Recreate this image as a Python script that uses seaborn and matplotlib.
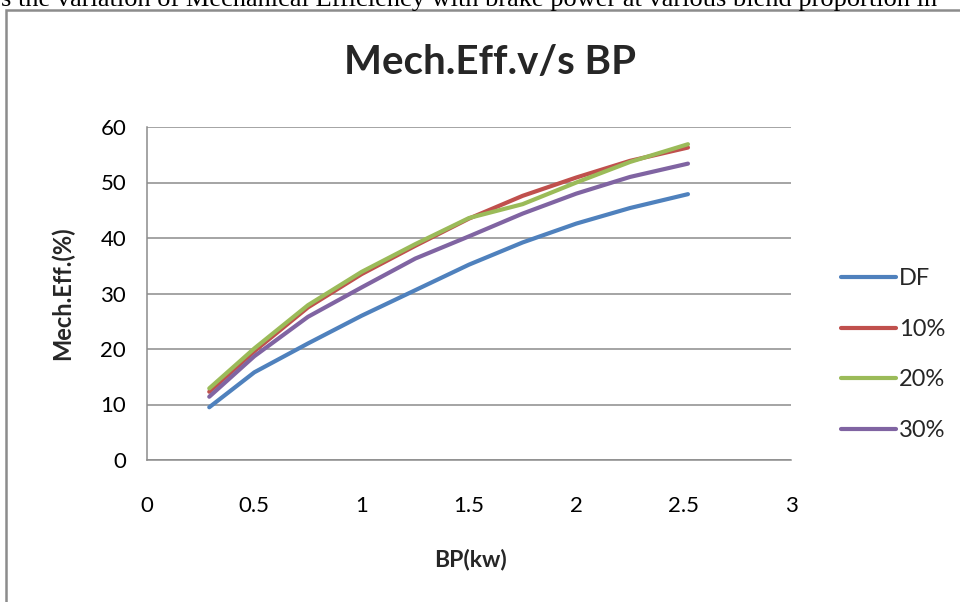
import matplotlib
matplotlib.use("Agg")
import matplotlib.pyplot as plt
import seaborn as sns
import pandas as pd
from matplotlib.patches import Rectangle
from matplotlib.lines import Line2D

# ---- data ----
bp = [0.29, 0.5, 0.75, 1.0, 1.25, 1.5, 1.75, 2.0, 2.25, 2.52]
df_eff = [9.5, 15.8, 21.0, 26.0, 30.6, 35.2, 39.2, 42.6, 45.4, 47.9]
b10_eff = [12.3, 19.6, 27.5, 33.5, 38.6, 43.5, 47.6, 50.9, 53.9, 56.3]
b20_eff = [12.9, 20.1, 27.9, 33.9, 38.9, 43.6, 46.1, 50.0, 53.7, 56.9]
b30_eff = [11.4, 18.7, 25.8, 31.1, 36.3, 40.3, 44.4, 48.0, 51.0, 53.4]
series_names = ["DF", "10%", "20%", "30%"]
x_ticks = [0, 0.5, 1, 1.5, 2, 2.5, 3]
x_tick_labels = ["0", "0.5", "1", "1.5", "2", "2.5", "3"]
y_ticks = [0, 10, 20, 30, 40, 50, 60]
title = "Mech.Eff.v/s BP"
x_label = "BP(kw)"
y_label = "Mech.Eff.(%)"
caption = "s the variation of Mechanical Efficiency with brake power at various blend proportion in"

rows = []
for name, vals in zip(series_names, [df_eff, b10_eff, b20_eff, b30_eff]):
    for x, y in zip(bp, vals):
        rows.append({"BP": x, "Eff": y, "Series": name})
data = pd.DataFrame(rows)

palette = {"DF": "#4F81BD", "10%": "#C0504D", "20%": "#9BBB59", "30%": "#8064A2"}

sns.set_theme(style="white")
plt.rcParams["font.family"] = ["Lato", "DejaVu Sans"]

fig = plt.figure(figsize=(9.6, 6.02), dpi=100)
W, H = 960, 602

# caption fragment at top (cut off by the page edge, as in the reference)
fig.text(1 / W, 1 - 6 / H, caption, family=["Liberation Serif"], fontsize=19,
         ha="left", va="baseline", color="black")

# chart border
fig.patches.append(Rectangle((6 / W, -0.05), 1.1, 1 - 9.5 / H + 0.05,
                             transform=fig.transFigure, fill=False,
                             edgecolor="#8c8c8c", linewidth=1.8))

ax = fig.add_axes([147 / W, 1 - 460 / H, 644 / W, 333 / H])
sns.lineplot(data=data, x="BP", y="Eff", hue="Series", palette=palette,
             hue_order=series_names, sort=False, linewidth=3.0, ax=ax,
             legend=False, solid_capstyle="round", solid_joinstyle="round")

ax.set_xlim(0, 3)
ax.set_ylim(0, 60)
ax.set_xticks(x_ticks)
ax.set_xticklabels(x_tick_labels)
ax.set_yticks(y_ticks)
ax.grid(axis="y", color="#8c8c8c", linewidth=1.1)
ax.set_axisbelow(True)
for s in ["top", "right"]:
    ax.spines[s].set_visible(False)
for s in ["left", "bottom"]:
    ax.spines[s].set_color("#8c8c8c")
    ax.spines[s].set_linewidth(1.1)
ax.tick_params(axis="both", which="major", direction="out", length=5,
               width=1.1, color="#8c8c8c", labelsize=16, labelcolor="#000000")
ax.tick_params(axis="x", pad=21)
ax.tick_params(axis="y", pad=10)
ax.set_xlabel("")
ax.set_ylabel("")

fig.text(490 / W, 1 - 63 / H, title, fontsize=29, fontweight="bold",
         ha="center", va="center")
fig.text(470 / W, 1 - 560 / H, x_label, fontsize=16.5, fontweight="bold",
         ha="center", va="center")
fig.text(62 / W, 1 - 293 / H, y_label, fontsize=17, fontweight="bold",
         ha="center", va="center", rotation=90)

# legend
handles = [Line2D([0], [0], color=palette[n], linewidth=3.0, solid_capstyle="round")
           for n in series_names]
fig.legend(handles, series_names, loc="upper left",
           bbox_to_anchor=(832 / W, 1 - 259 / H), frameon=False, fontsize=17,
           handlelength=2.3, handletextpad=0.15, labelspacing=1.25,
           borderaxespad=0)

fig.savefig("out.png", dpi=100)
